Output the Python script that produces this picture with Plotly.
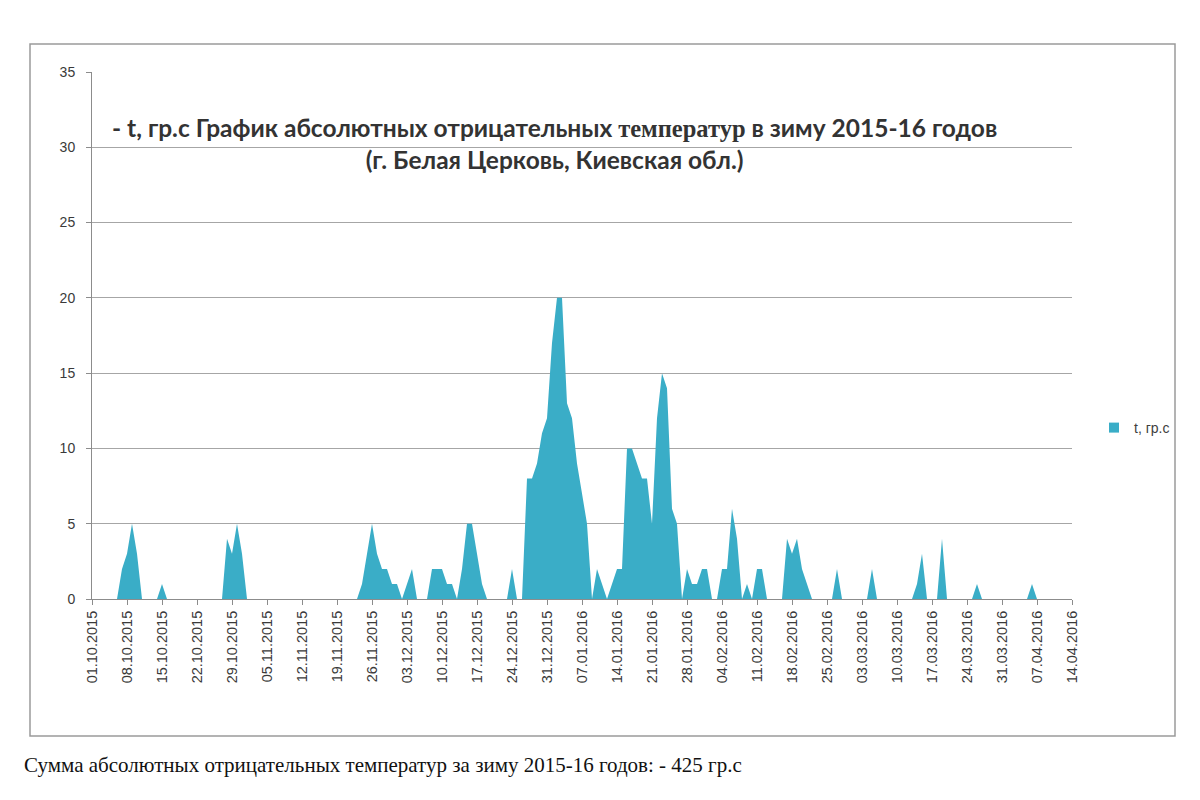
import pandas as pd
import plotly.graph_objects as go

# абсолютные отрицательные температуры по дням, гр.с
oct_vals = [0, 0, 0, 0, 0, 0, 2, 3, 5, 3,
            0, 0, 0, 0, 1, 0, 0, 0, 0, 0,
            0, 0, 0, 0, 0, 0, 0, 4, 3, 5,
            3]
nov_vals = [0, 0, 0, 0, 0, 0, 0, 0, 0, 0,
            0, 0, 0, 0, 0, 0, 0, 0, 0, 0,
            0, 0, 0, 1, 3, 5, 3, 2, 2, 1]
dec_vals = [1, 0, 1, 2, 0, 0, 0, 2, 2, 2,
            1, 1, 0, 2, 5, 5, 3, 1, 0, 0,
            0, 0, 0, 2, 0, 0, 8, 8, 9, 11,
            12]
jan_vals = [17, 20, 20, 13, 12, 9, 7, 5, 0, 2,
            1, 0, 1, 2, 2, 10, 10, 9, 8, 8,
            5, 12, 15, 14, 6, 5, 0, 2, 1, 1,
            2]
feb_vals = [2, 0, 0, 2, 2, 6, 4, 0, 1, 0,
            2, 2, 0, 0, 0, 0, 4, 3, 4, 2,
            1, 0, 0, 0, 0, 0, 2, 0, 0]
mar_vals = [0, 0, 0, 0, 2, 0, 0, 0, 0, 0,
            0, 0, 0, 1, 3, 0, 0, 0, 4, 0,
            0, 0, 0, 0, 0, 1, 0, 0, 0, 0,
            0]
apr_vals = [0, 0, 0, 0, 0, 1, 0, 0, 0, 0,
            0, 0, 0, 0]

start_date = "2015-10-01"
end_date = "2016-04-14"
series_name = "t, гр.с"
title_line1 = ("- t, гр.с График абсолютных отрицательных "
               "<span style='font-family:Liberation Serif'>температур</span>"
               " в зиму 2015-16 годов")
title_line2 = "(г. Белая Церковь, Киевская обл.)"
footer = "Сумма абсолютных отрицательных температур за зиму 2015-16 годов: - 425 гр.с"

values = oct_vals + nov_vals + dec_vals + jan_vals + feb_vals + mar_vals + apr_vals
dates = pd.date_range(start_date, periods=len(values), freq="D")

COLOR = "#3AADC7"
# область графика на экране (страница сдвинута на 8px отступом body)
L, R, T, B = 92, 1072, 72, 599
OFF = 8
def px(x):
    return (x - L) / (R - L)
def py(y):
    return (B - y) / (B - T)

fig = go.Figure()
fig.add_trace(go.Scatter(
    x=dates, y=values, name=series_name,
    mode="lines", fill="tozeroy",
    line=dict(width=0, color=COLOR), fillcolor=COLOR,
    showlegend=False))
# значок легенды - квадрат
fig.add_trace(go.Scatter(
    x=[None], y=[None], name=series_name, mode="markers",
    marker=dict(symbol="square", size=10, color=COLOR)))

fig.update_layout(
    width=1200, height=800,
    margin=dict(l=L - OFF, r=1200 - R + OFF, t=T - OFF, b=800 - B + OFF),
    paper_bgcolor="white", plot_bgcolor="white",
    font=dict(family="Liberation Sans", size=14, color="#404040"),
    legend=dict(x=px(1094), y=py(428), xanchor="left", yanchor="middle",
                font=dict(size=14, color="#404040"), bgcolor="rgba(0,0,0,0)"),
    xaxis=dict(
        type="date", range=[start_date, end_date],
        tick0=start_date, dtick=7 * 86400000, tickformat="%d.%m.%Y",
        tickangle=-90, showgrid=False, showline=True, linecolor="#8C8C8C",
        ticks="outside", ticklen=5, tickcolor="#8C8C8C",
        tickfont=dict(size=14.5, color="#3A3A3A")),
    yaxis=dict(
        range=[0, 35], dtick=5, showgrid=True, gridcolor="#A6A6A6",
        showline=True, linecolor="#8C8C8C",
        ticks="outside", ticklen=5, tickcolor="#8C8C8C", ticklabelstandoff=8,
        tickfont=dict(size=14, color="#3A3A3A")),
    shapes=[dict(type="rect", xref="paper", yref="paper",
                 x0=px(30), x1=px(1175), y0=py(736), y1=py(44),
                 line=dict(color="#9A9A9A", width=1.5), layer="below")],
    annotations=[
        dict(text=title_line1 + "<br>" + title_line2,
             xref="paper", yref="paper", x=px(554), y=py(143),
             xanchor="center", yanchor="middle", showarrow=False, align="center",
             font=dict(family="Lato", size=24.5, color="#333333", weight="bold")),
        dict(text=footer, xref="paper", yref="paper",
             x=px(22), y=py(765), xanchor="left", yanchor="middle", showarrow=False,
             font=dict(family="Liberation Serif", size=21, color="#111111")),
    ],
)

fig.write_html("out.html")
